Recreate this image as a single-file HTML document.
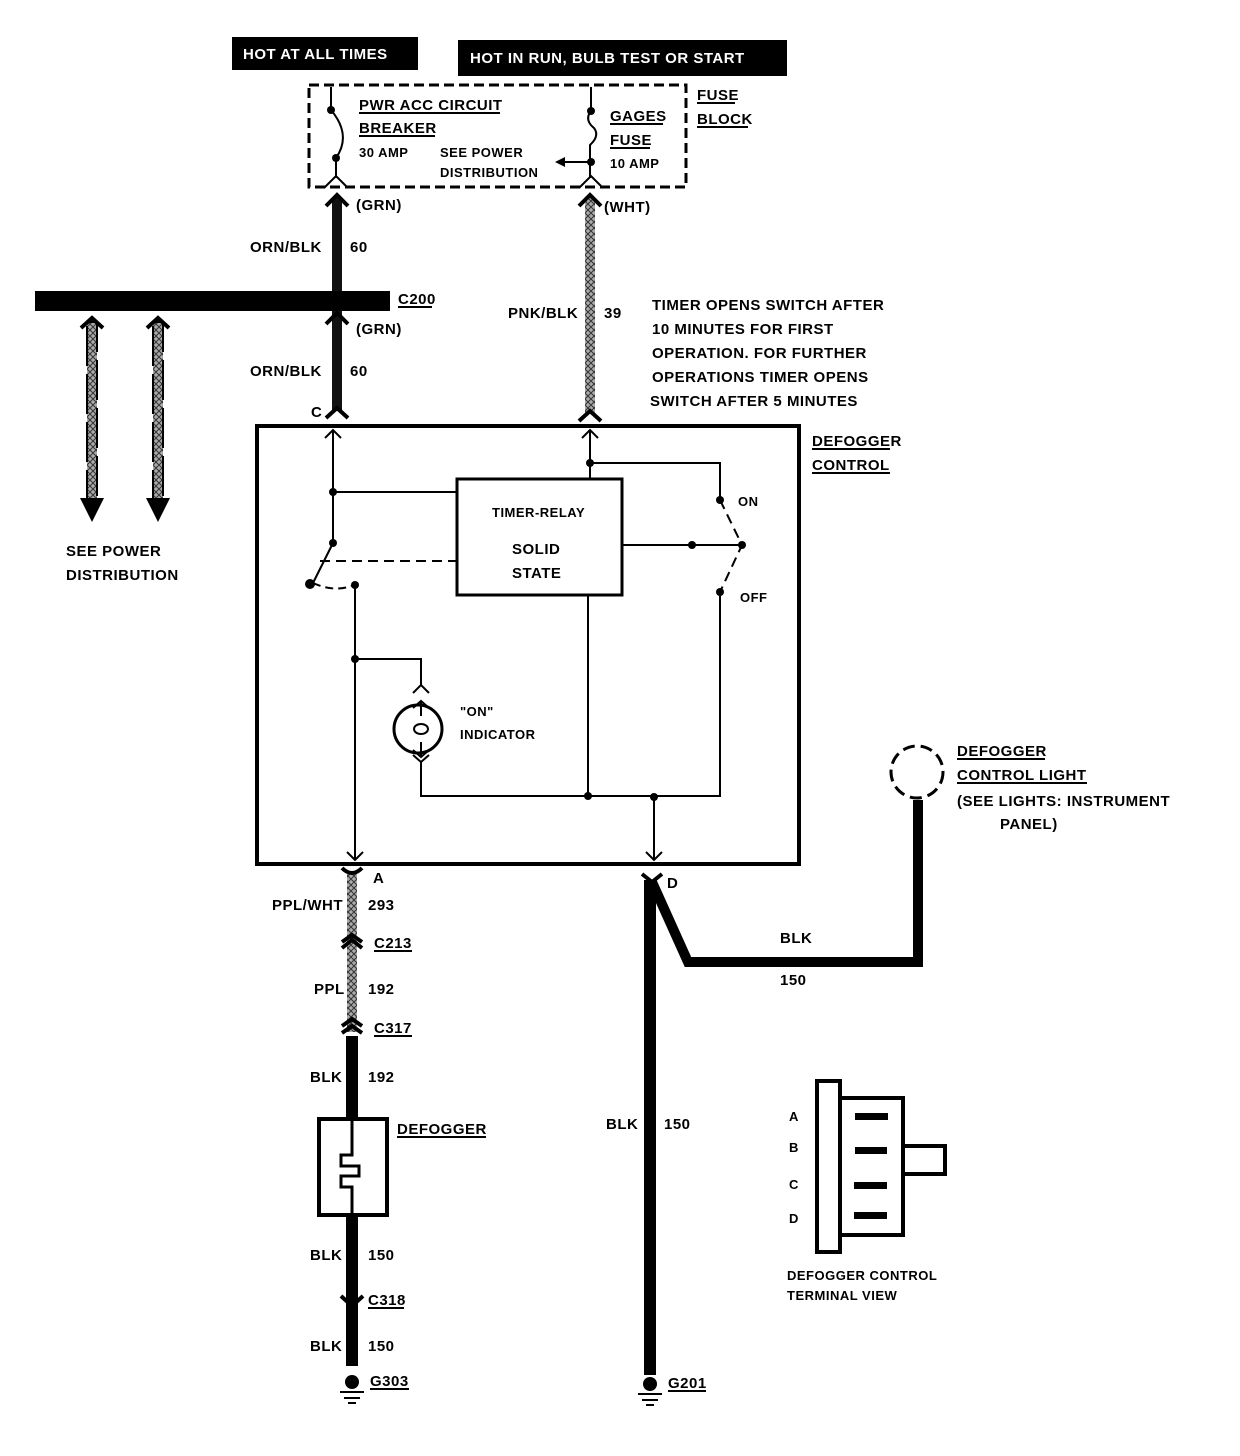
<!DOCTYPE html>
<html><head><meta charset="utf-8"><style>
body{margin:0;background:#fff}
svg{display:block}
text{font-family:"Liberation Sans",sans-serif;font-weight:bold;font-size:15px;fill:#000;letter-spacing:0.5px}
.s{font-size:13px}
.w{fill:#fff}
</style></head><body>
<svg width="1240" height="1456" viewBox="0 0 1240 1456" xmlns="http://www.w3.org/2000/svg">
<defs>
<pattern id="h" width="6" height="6" patternUnits="userSpaceOnUse"><rect width="6" height="6" fill="#aaa"/><path d="M0 0L6 6M6 0L0 6" stroke="#333" stroke-width="1"/></pattern>
</defs>
<!-- header boxes -->
<rect x="232" y="37" width="186" height="33" fill="#000"/>
<text x="243" y="59" class="w">HOT AT ALL TIMES</text>
<rect x="458" y="40" width="329" height="36" fill="#000"/>
<text x="470" y="63" class="w">HOT IN RUN,   BULB TEST OR START</text>
<!-- fuse block -->
<rect x="309" y="85" width="377" height="102" fill="none" stroke="#000" stroke-width="3" stroke-dasharray="10,5"/>
<text x="697" y="100">FUSE</text><line x1="697" y1="103" x2="735" y2="103" stroke="#000" stroke-width="2"/>
<text x="697" y="124">BLOCK</text><line x1="697" y1="127" x2="748" y2="127" stroke="#000" stroke-width="2"/>
<path d="M331 87V110M331 110Q352 135 336 158V178M324 188L336 176L348 188" fill="none" stroke="#000" stroke-width="2"/>
<circle cx="331" cy="110" r="4"/><circle cx="336" cy="158" r="4"/>
<text x="359" y="110">PWR ACC CIRCUIT</text><line x1="359" y1="113" x2="500" y2="113" stroke="#000" stroke-width="2"/>
<text x="359" y="133">BREAKER</text><line x1="359" y1="136" x2="435" y2="136" stroke="#000" stroke-width="2"/>
<text x="359" y="157" class="s">30 AMP</text>
<text x="440" y="157" class="s">SEE POWER</text>
<text x="440" y="177" class="s">DISTRIBUTION</text>
<path d="M591 87V111M591 111Q584 120 594 128Q600 136 590 145V178M579 188L591 176L603 188M591 162H562" fill="none" stroke="#000" stroke-width="2"/>
<path d="M555 162L565 157V167Z"/>
<circle cx="591" cy="111" r="4"/><circle cx="591" cy="162" r="4"/>
<text x="610" y="121">GAGES</text><line x1="610" y1="124" x2="663" y2="124" stroke="#000" stroke-width="2"/>
<text x="610" y="145">FUSE</text><line x1="610" y1="148" x2="650" y2="148" stroke="#000" stroke-width="2"/>
<text x="610" y="168" class="s">10 AMP</text>
<!-- left main wire -->
<rect x="332" y="198" width="10" height="213" fill="#111"/>
<path d="M326 206L337 195L348 206" fill="none" stroke="#000" stroke-width="4"/>
<path d="M326 324L337 313L348 324" fill="none" stroke="#000" stroke-width="4"/>
<path d="M326 418L337 408L348 418" fill="none" stroke="#000" stroke-width="4"/>
<text x="356" y="210">(GRN)</text>
<text x="250" y="252">ORN/BLK</text><text x="350" y="252">60</text>
<text x="356" y="334">(GRN)</text>
<text x="250" y="376">ORN/BLK</text><text x="350" y="376">60</text>
<text x="311" y="417">C</text>
<!-- C200 bar -->
<rect x="35" y="291" width="355" height="20" fill="#000"/>
<text x="398" y="304">C200</text><line x1="398" y1="307" x2="432" y2="307" stroke="#000" stroke-width="2"/>
<!-- side wires -->
<g>
<rect x="87" y="322" width="10" height="180" fill="url(#h)"/>
<rect x="87" y="322" width="10" height="180" fill="none" stroke="#000" stroke-width="2" stroke-dasharray="40,8"/>
<path d="M81 328L92 318L103 328" fill="none" stroke="#000" stroke-width="4"/>
<path d="M80 498L92 522L104 498Z"/>
<rect x="153" y="322" width="10" height="180" fill="url(#h)"/>
<rect x="153" y="322" width="10" height="180" fill="none" stroke="#000" stroke-width="2" stroke-dasharray="40,8"/>
<path d="M147 328L158 318L169 328" fill="none" stroke="#000" stroke-width="4"/>
<path d="M146 498L158 522L170 498Z"/>
</g>
<text x="66" y="556">SEE POWER</text>
<text x="66" y="580">DISTRIBUTION</text>
<!-- right main wire -->
<rect x="585" y="198" width="10" height="215" fill="url(#h)"/>
<path d="M579 206L590 195L601 206" fill="none" stroke="#000" stroke-width="4"/>
<path d="M579 421L590 411L601 421" fill="none" stroke="#000" stroke-width="4"/>
<text x="604" y="212">(WHT)</text>
<text x="508" y="318">PNK/BLK</text><text x="604" y="318">39</text>
<text x="652" y="310">TIMER OPENS SWITCH AFTER</text>
<text x="652" y="334">10 MINUTES FOR FIRST</text>
<text x="652" y="358">OPERATION.  FOR FURTHER</text>
<text x="652" y="382">OPERATIONS TIMER OPENS</text>
<text x="650" y="406">SWITCH AFTER 5 MINUTES</text>
<!-- defogger control box -->
<rect x="257" y="426" width="542" height="438" fill="none" stroke="#000" stroke-width="4"/>
<text x="812" y="446">DEFOGGER</text><line x1="812" y1="449" x2="890" y2="449" stroke="#000" stroke-width="2"/>
<text x="812" y="470">CONTROL</text><line x1="812" y1="473" x2="890" y2="473" stroke="#000" stroke-width="2"/>
<g fill="none" stroke="#000" stroke-width="2">
<path d="M333 430V543M325 438L333 430L341 438M333 492H457"/>
<path d="M333 543L313 583"/>
<path d="M320 561H457" stroke-dasharray="10,6"/>
<path d="M313 583Q335 593 354 585" stroke-dasharray="8,5"/>
<path d="M355 585V860M347 852L355 860L363 852M355 659H421V685M413 693L421 685L429 693"/>
<path d="M421 762V796H720V592M413 755L421 762L429 755"/>
<path d="M588 595V796M654 797V860M646 852L654 860L662 852"/>
<path d="M590 430V478M582 438L590 430L598 438M590 463H720V500"/>
<path d="M622 545H742"/>
<path d="M720 500L742 545L720 592" stroke-dasharray="10,6"/>
</g>
<rect x="457" y="479" width="165" height="116" fill="none" stroke="#000" stroke-width="3"/>
<text x="492" y="517" class="s">TIMER-RELAY</text>
<text x="512" y="554">SOLID</text>
<text x="512" y="578">STATE</text>
<text x="738" y="506" class="s">ON</text>
<text x="740" y="602" class="s">OFF</text>
<g>
<circle cx="333" cy="492" r="4"/><circle cx="333" cy="543" r="4"/><circle cx="310" cy="584" r="5"/><circle cx="355" cy="585" r="4"/>
<circle cx="355" cy="659" r="4"/><circle cx="588" cy="796" r="4"/><circle cx="654" cy="797" r="4"/>
<circle cx="590" cy="463" r="4"/><circle cx="720" cy="500" r="4"/><circle cx="720" cy="592" r="4"/>
<circle cx="692" cy="545" r="4"/><circle cx="742" cy="545" r="4"/>
</g>
<circle cx="418" cy="729" r="24" fill="none" stroke="#000" stroke-width="3"/>
<path d="M421 701V716M413 708L421 701L429 708M421 757V742M413 750L421 757L429 750" fill="none" stroke="#000" stroke-width="2"/>
<ellipse cx="421" cy="729" rx="7" ry="5" fill="none" stroke="#000" stroke-width="2"/>
<text x="460" y="716" class="s">"ON"</text>
<text x="460" y="739" class="s">INDICATOR</text>
<!-- A wire down -->
<rect x="347" y="872" width="10" height="160" fill="url(#h)"/>
<path d="M342 868Q352 878 362 868" fill="none" stroke="#000" stroke-width="4"/>
<path d="M342 942L352 935L362 942M342 948L352 940L362 948" fill="none" stroke="#000" stroke-width="4"/>
<path d="M342 1026L352 1019L362 1026M342 1033L352 1026L362 1033" fill="none" stroke="#000" stroke-width="4"/>
<rect x="346" y="1036" width="12" height="330" fill="#000"/>
<path d="M341 1296L352 1306L363 1296" fill="none" stroke="#000" stroke-width="4"/>
<text x="373" y="883">A</text>
<text x="272" y="910">PPL/WHT</text><text x="368" y="910">293</text>
<text x="374" y="948">C213</text><line x1="374" y1="951" x2="412" y2="951" stroke="#000" stroke-width="2"/>
<text x="314" y="994">PPL</text><text x="368" y="994">192</text>
<text x="374" y="1033">C317</text><line x1="374" y1="1036" x2="412" y2="1036" stroke="#000" stroke-width="2"/>
<text x="310" y="1082">BLK</text><text x="368" y="1082">192</text>
<rect x="319" y="1119" width="68" height="96" fill="#fff" stroke="#000" stroke-width="4"/>
<path d="M352 1119V1155H341V1166H359V1176H341V1187H352V1215" fill="none" stroke="#000" stroke-width="3"/>
<text x="397" y="1134">DEFOGGER</text><line x1="397" y1="1137" x2="486" y2="1137" stroke="#000" stroke-width="2"/>
<text x="310" y="1260">BLK</text><text x="368" y="1260">150</text>
<text x="368" y="1305">C318</text><line x1="368" y1="1308" x2="404" y2="1308" stroke="#000" stroke-width="2"/>
<text x="310" y="1351">BLK</text><text x="368" y="1351">150</text>
<circle cx="352" cy="1382" r="7"/>
<path d="M340 1392H364M344 1398H360M348 1403H356" stroke="#000" stroke-width="2"/>
<text x="370" y="1386">G303</text><line x1="370" y1="1389" x2="409" y2="1389" stroke="#000" stroke-width="2"/>
<!-- D wire -->
<rect x="644" y="880" width="12" height="495" fill="#000"/>
<path d="M642 874L652 882L662 874" fill="none" stroke="#000" stroke-width="4"/>
<path d="M652 882L688 962H918V800" fill="none" stroke="#000" stroke-width="10" stroke-linejoin="miter"/>
<circle cx="917" cy="772" r="26" fill="none" stroke="#000" stroke-width="3" stroke-dasharray="12,6"/>
<text x="667" y="888">D</text>
<text x="780" y="943">BLK</text>
<text x="780" y="985">150</text>
<text x="606" y="1129">BLK</text><text x="664" y="1129">150</text>
<circle cx="650" cy="1384" r="7"/>
<path d="M638 1394H662M642 1400H658M646 1405H654" stroke="#000" stroke-width="2"/>
<text x="668" y="1388">G201</text><line x1="668" y1="1391" x2="706" y2="1391" stroke="#000" stroke-width="2"/>
<text x="957" y="756">DEFOGGER</text><line x1="957" y1="759" x2="1045" y2="759" stroke="#000" stroke-width="2"/>
<text x="957" y="780">CONTROL LIGHT</text><line x1="957" y1="783" x2="1087" y2="783" stroke="#000" stroke-width="2"/>
<text x="957" y="806">(SEE LIGHTS: INSTRUMENT</text>
<text x="1000" y="829">PANEL)</text>
<!-- terminal view -->
<rect x="817" y="1081" width="23" height="171" fill="none" stroke="#000" stroke-width="4"/>
<rect x="840" y="1098" width="63" height="137" fill="none" stroke="#000" stroke-width="4"/>
<rect x="903" y="1146" width="42" height="28" fill="none" stroke="#000" stroke-width="4"/>
<rect x="855" y="1113" width="33" height="7"/>
<rect x="855" y="1147" width="32" height="7"/>
<rect x="854" y="1182" width="33" height="7"/>
<rect x="854" y="1212" width="33" height="7"/>
<text x="789" y="1121" class="s">A</text>
<text x="789" y="1152" class="s">B</text>
<text x="789" y="1189" class="s">C</text>
<text x="789" y="1223" class="s">D</text>
<text x="787" y="1280" class="s">DEFOGGER CONTROL</text>
<text x="787" y="1300" class="s">TERMINAL VIEW</text>
</svg>
</body></html>
